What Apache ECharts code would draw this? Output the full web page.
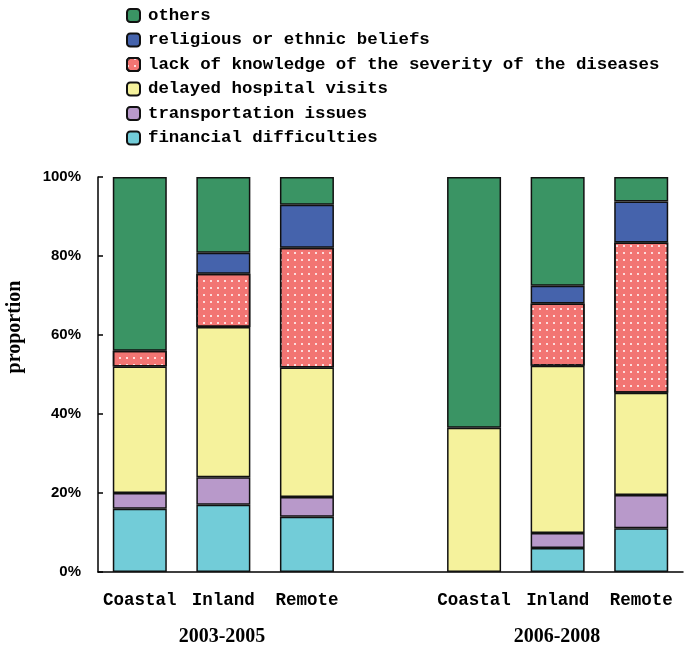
<!DOCTYPE html>
<html>
<head>
<meta charset="utf-8">
<script src="https://cdn.jsdelivr.net/npm/echarts@6/dist/echarts.min.js"></script>
<style>html,body{margin:0;padding:0;background:#fff}#c{width:686px;height:652px}</style>
</head>
<body>
<div id="c"></div>
<script>
const categories = ['Coastal', 'Inland', 'Remote', '', 'Coastal', 'Inland', 'Remote'];
const groupLabels = ['2003-2005', '2006-2008'];
const yTicks = [0, 20, 40, 60, 80, 100];
const financial = [16, 17, 14, null, null, 6.1, 11.1];
const transport = [4, 7, 5, null, null, 3.8, 8.4];
const delayed = [32, 38, 32.8, null, 36.5, 42.3, 25.9];
const lack = [4, 13.5, 30.3, null, null, 15.8, 38];
const religious = [null, 5.3, 10.9, null, null, 4.5, 10.4];
const others = [44, 19.2, 7, null, 63.5, 27.5, 6.2];

const seriesDefs = [
  {name: 'financial difficulties', data: financial, color: '#72CCD8'},
  {name: 'transportation issues', data: transport, color: '#B899CA'},
  {name: 'delayed hospital visits', data: delayed, color: '#F5F29C'},
  {name: 'lack of knowledge of the severity of the diseases', data: lack, color: '#F27573', dots: true},
  {name: 'religious or ethnic beliefs', data: religious, color: '#4563AC'},
  {name: 'others', data: others, color: '#3A9464'}
];

const mono = "'Liberation Mono', 'DejaVu Sans Mono', monospace";
const chart = echarts.init(document.getElementById('c'));
chart.setOption({
  animation: false,
  backgroundColor: '#fff',
  legend: {
    orient: 'vertical',
    left: 121,
    top: 2,
    itemWidth: 13,
    itemHeight: 13,
    itemGap: 7.5,
    data: seriesDefs.map(s => s.name).reverse(),
    textStyle: {fontFamily: mono, fontSize: 17.4, fontWeight: 'bold', lineHeight: 17, color: '#000', padding: [0, 0, 0, 3]}
  },
  grid: {left: 98, right: 3, top: 177, bottom: 80},
  xAxis: {
    type: 'category',
    data: categories,
    axisLine: {lineStyle: {color: '#000', width: 1.5}},
    axisTick: {inside: true, length: 6, lineStyle: {color: '#000', width: 1.5}},
    axisLabel: {fontFamily: mono, fontSize: 17.5, fontWeight: 'bold', color: '#000', margin: 20, interval: 0}
  },
  yAxis: {
    type: 'value',
    min: 0, max: 100, interval: 20,
    axisLine: {show: true, lineStyle: {color: '#000', width: 1.5}},
    axisTick: {show: true, inside: true, length: 5, lineStyle: {color: '#000', width: 1.5}},
    splitLine: {show: false},
    axisLabel: {
      formatter: v => yTicks.includes(v) ? v + '%' : '',
      fontFamily: "'Liberation Sans Narrow', 'Liberation Sans', sans-serif",
      fontWeight: 'bold', fontSize: 15, color: '#000', margin: 17
    }
  },
  graphic: [
    {type: 'text', x: 15, y: 327, rotation: Math.PI / 2,
      style: {text: 'proportion', font: "bold 20px 'Liberation Serif', serif", fill: '#000', align: 'center', verticalAlign: 'middle'}},
    {type: 'text', x: 222, y: 637, style: {text: groupLabels[0], font: "bold 20px 'Liberation Serif', serif", fill: '#000', align: 'center', verticalAlign: 'middle'}},
    {type: 'text', x: 557, y: 637, style: {text: groupLabels[1], font: "bold 20px 'Liberation Serif', serif", fill: '#000', align: 'center', verticalAlign: 'middle'}}
  ],
  series: seriesDefs.map(s => ({
    name: s.name,
    type: 'bar',
    stack: 'total',
    barWidth: 54,
    data: s.data,
    itemStyle: Object.assign({color: s.color, borderColor: '#111', borderWidth: 1.5},
      s.dots ? {decal: {symbol: 'circle', symbolSize: 1, color: '#fff', backgroundColor: null, dashArrayX: [2, 5], dashArrayY: [2, 5], rotation: 0}} : {})
  }))
});
</script>
</body>
</html>
